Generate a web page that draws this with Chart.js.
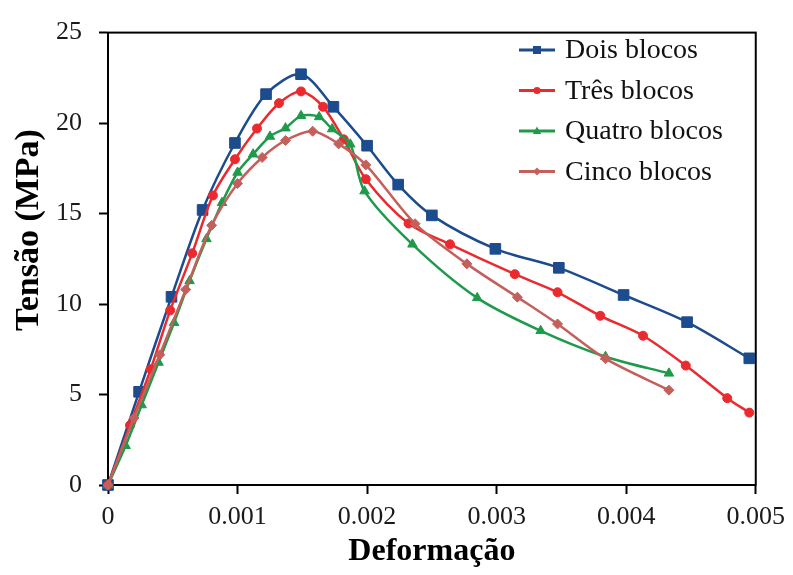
<!DOCTYPE html>
<html>
<head>
<meta charset="utf-8">
<script src="https://cdn.jsdelivr.net/npm/chart.js@4.4.1/dist/chart.umd.min.js"></script>
<style>
  html, body { margin: 0; padding: 0; background: #fff; }
  #wrap { width: 793px; height: 575px; }
</style>
</head>
<body>
<div id="wrap"><canvas id="chart"></canvas></div>
<script>
// ================= DATA =================

const seriesNames = ["Dois blocos", "Três blocos", "Quatro blocos", "Cinco blocos"];

const doisX = [0, 0.00024, 0.00049, 0.00073, 0.00098, 0.00122, 0.00149, 0.00174, 0.0020, 0.00224, 0.0025, 0.00299, 0.00348, 0.00398, 0.00447, 0.00495];
const doisY = [0, 5.15, 10.4, 15.2, 18.9, 21.6, 22.7, 20.9, 18.75, 16.6, 14.9, 13.05, 12.0, 10.5, 9.0, 7.0];

const tresX = [0, 0.00017, 0.00033, 0.00048, 0.00065, 0.00081, 0.00098, 0.00115, 0.00132, 0.00149, 0.00166, 0.00182, 0.00199, 0.00232, 0.00264, 0.00314, 0.00347, 0.0038, 0.00413, 0.00446, 0.00478, 0.00495];
const tresY = [0, 3.3, 6.4, 9.65, 12.8, 16.0, 18.0, 19.7, 21.1, 21.75, 20.9, 19.1, 16.9, 14.45, 13.3, 11.65, 10.65, 9.35, 8.25, 6.6, 4.8, 4.0];

const quatroX = [0, 0.000136, 0.00026, 0.00039, 0.00051, 0.00063, 0.00076, 0.00088, 0.0010, 0.00112, 0.00125, 0.00137, 0.00149, 0.00163, 0.00173, 0.00187, 0.00198, 0.00235, 0.00285, 0.00334, 0.00384, 0.00433];
const quatroY = [0, 2.17, 4.42, 6.77, 8.97, 11.28, 13.6, 15.6, 17.27, 18.28, 19.26, 19.72, 20.4, 20.34, 19.67, 18.83, 16.24, 13.3, 10.34, 8.52, 7.09, 6.17];

const cincoX = [0, 0.0002, 0.0004, 0.0006, 0.0008, 0.0010, 0.00119, 0.00137, 0.00158, 0.00178, 0.00199, 0.00237, 0.00277, 0.00316, 0.00347, 0.00384, 0.00433];
const cincoY = [0, 3.7, 7.2, 10.8, 14.35, 16.66, 18.1, 19.04, 19.55, 18.85, 17.69, 14.44, 12.22, 10.38, 8.9, 6.98, 5.24];

const xTickLabels = ["0", "0.001", "0.002", "0.003", "0.004", "0.005"];
const yTickLabels = ["0", "5", "10", "15", "20", "25"];

// ================= STYLE =================

const colors = ["#1c4b8e", "#ea2a2e", "#1f9a4b", "#c4605c"];
const markers = ["rect", "circle", "triangle", "rectRot"];
const markerSizes = [7.5, 4.5, 5.5, 5];

function toPoints(xs, ys) {
  return xs.map((x, i) => ({ x: x, y: ys[i] }));
}

const allX = [doisX, tresX, quatroX, cincoX];
const allY = [doisY, tresY, quatroY, cincoY];

const datasets = seriesNames.map((name, i) => ({
  label: name,
  data: toPoints(allX[i], allY[i]),
  borderColor: colors[i],
  backgroundColor: colors[i],
  borderWidth: 2.5,
  pointStyle: markers[i],
  pointRadius: markerSizes[i],
  pointHoverRadius: markerSizes[i],
  pointBorderWidth: 1,
  tension: 0.3,
  clip: false,
  order: seriesNames.length - i
}));

// simple marker drawing for the legend
function drawMarker(ctx, style, x, y, r, color) {
  ctx.fillStyle = color;
  ctx.beginPath();
  if (style === "rect") {
    ctx.rect(x - r, y - r, 2 * r, 2 * r);
  } else if (style === "circle") {
    ctx.arc(x, y, r, 0, Math.PI * 2);
  } else if (style === "triangle") {
    ctx.moveTo(x, y - r * 1.1);
    ctx.lineTo(x + r, y + r * 0.7);
    ctx.lineTo(x - r, y + r * 0.7);
    ctx.closePath();
  } else {
    ctx.moveTo(x, y - r);
    ctx.lineTo(x + r, y);
    ctx.lineTo(x, y + r);
    ctx.lineTo(x - r, y);
    ctx.closePath();
  }
  ctx.fill();
}

const frameAndLegend = {
  id: "frameAndLegend",
  beforeDatasetsDraw(chart) {
    const { ctx, chartArea } = chart;
    ctx.save();
    ctx.strokeStyle = "#000";
    ctx.lineWidth = 2;
    ctx.strokeRect(chartArea.left, chartArea.top, chartArea.right - chartArea.left, chartArea.bottom - chartArea.top);
    ctx.restore();
  },
  afterDraw(chart) {
    const ctx = chart.ctx;
    const legendSizes = [4, 3.6, 4.2, 4];
    ctx.save();
    // y axis title, a bit above the middle like in the original
    ctx.fillStyle = "#000";
    ctx.font = "bold 34px 'Liberation Serif'";
    ctx.textAlign = "center";
    ctx.textBaseline = "middle";
    ctx.translate(29, 230);
    ctx.rotate(-Math.PI / 2);
    ctx.fillText("Tensão (MPa)", 0, 0);
    ctx.restore();

    ctx.save();
    seriesNames.forEach((name, i) => {
      const y = 50 + i * 40.5;
      ctx.strokeStyle = colors[i];
      ctx.lineWidth = 3;
      ctx.beginPath();
      ctx.moveTo(519, y);
      ctx.lineTo(555, y);
      ctx.stroke();
      drawMarker(ctx, markers[i], 537, y, legendSizes[i], colors[i]);
      ctx.fillStyle = "#111";
      ctx.font = "28px 'Liberation Serif'";
      ctx.textBaseline = "middle";
      ctx.textAlign = "left";
      ctx.fillText(name, 565, y + 1);
    });
    ctx.restore();
  }
};

// ================= CHART =================

const ctx = document.getElementById("chart").getContext("2d");
const tensionChart = new Chart(ctx, {
  type: "line",
  data: { datasets: datasets },
  plugins: [frameAndLegend],
  options: {
    responsive: true,
    maintainAspectRatio: false,
    animation: false,
    layout: { padding: { left: 0, top: 23, right: 32, bottom: 0 } },
    plugins: {
      legend: { display: false },
      tooltip: { enabled: false }
    },
    scales: {
      x: {
        type: "linear",
        min: 0,
        max: 0.005,
        afterFit: (scale) => { scale.height = 90; },
        ticks: {
          stepSize: 0.001,
          color: "#1a1a1a",
          font: { family: "'Liberation Serif'", size: 26 },
          padding: 8,
          maxRotation: 0,
          callback: (v, i) => xTickLabels[i]
        },
        grid: { display: true, drawOnChartArea: false, drawTicks: true, tickLength: 9, tickColor: "#000", tickWidth: 2 },
        border: { display: true, color: "#000", width: 2 },
        title: {
          display: true,
          text: "Deformação",
          color: "#000",
          font: { family: "'Liberation Serif'", size: 32, weight: "bold" },
          padding: { top: 0, bottom: 4 }
        }
      },
      y: {
        min: 0,
        max: 25,
        afterFit: (scale) => { scale.width = 108; },
        ticks: {
          stepSize: 5,
          color: "#1a1a1a",
          font: { family: "'Liberation Serif'", size: 26 },
          padding: 17,
          callback: (v, i) => yTickLabels[i]
        },
        grid: { display: true, drawOnChartArea: false, drawTicks: true, tickLength: 9, tickColor: "#000", tickWidth: 2 },
        border: { display: true, color: "#000", width: 2 }
      }
    }
  }
});
</script>
</body>
</html>
